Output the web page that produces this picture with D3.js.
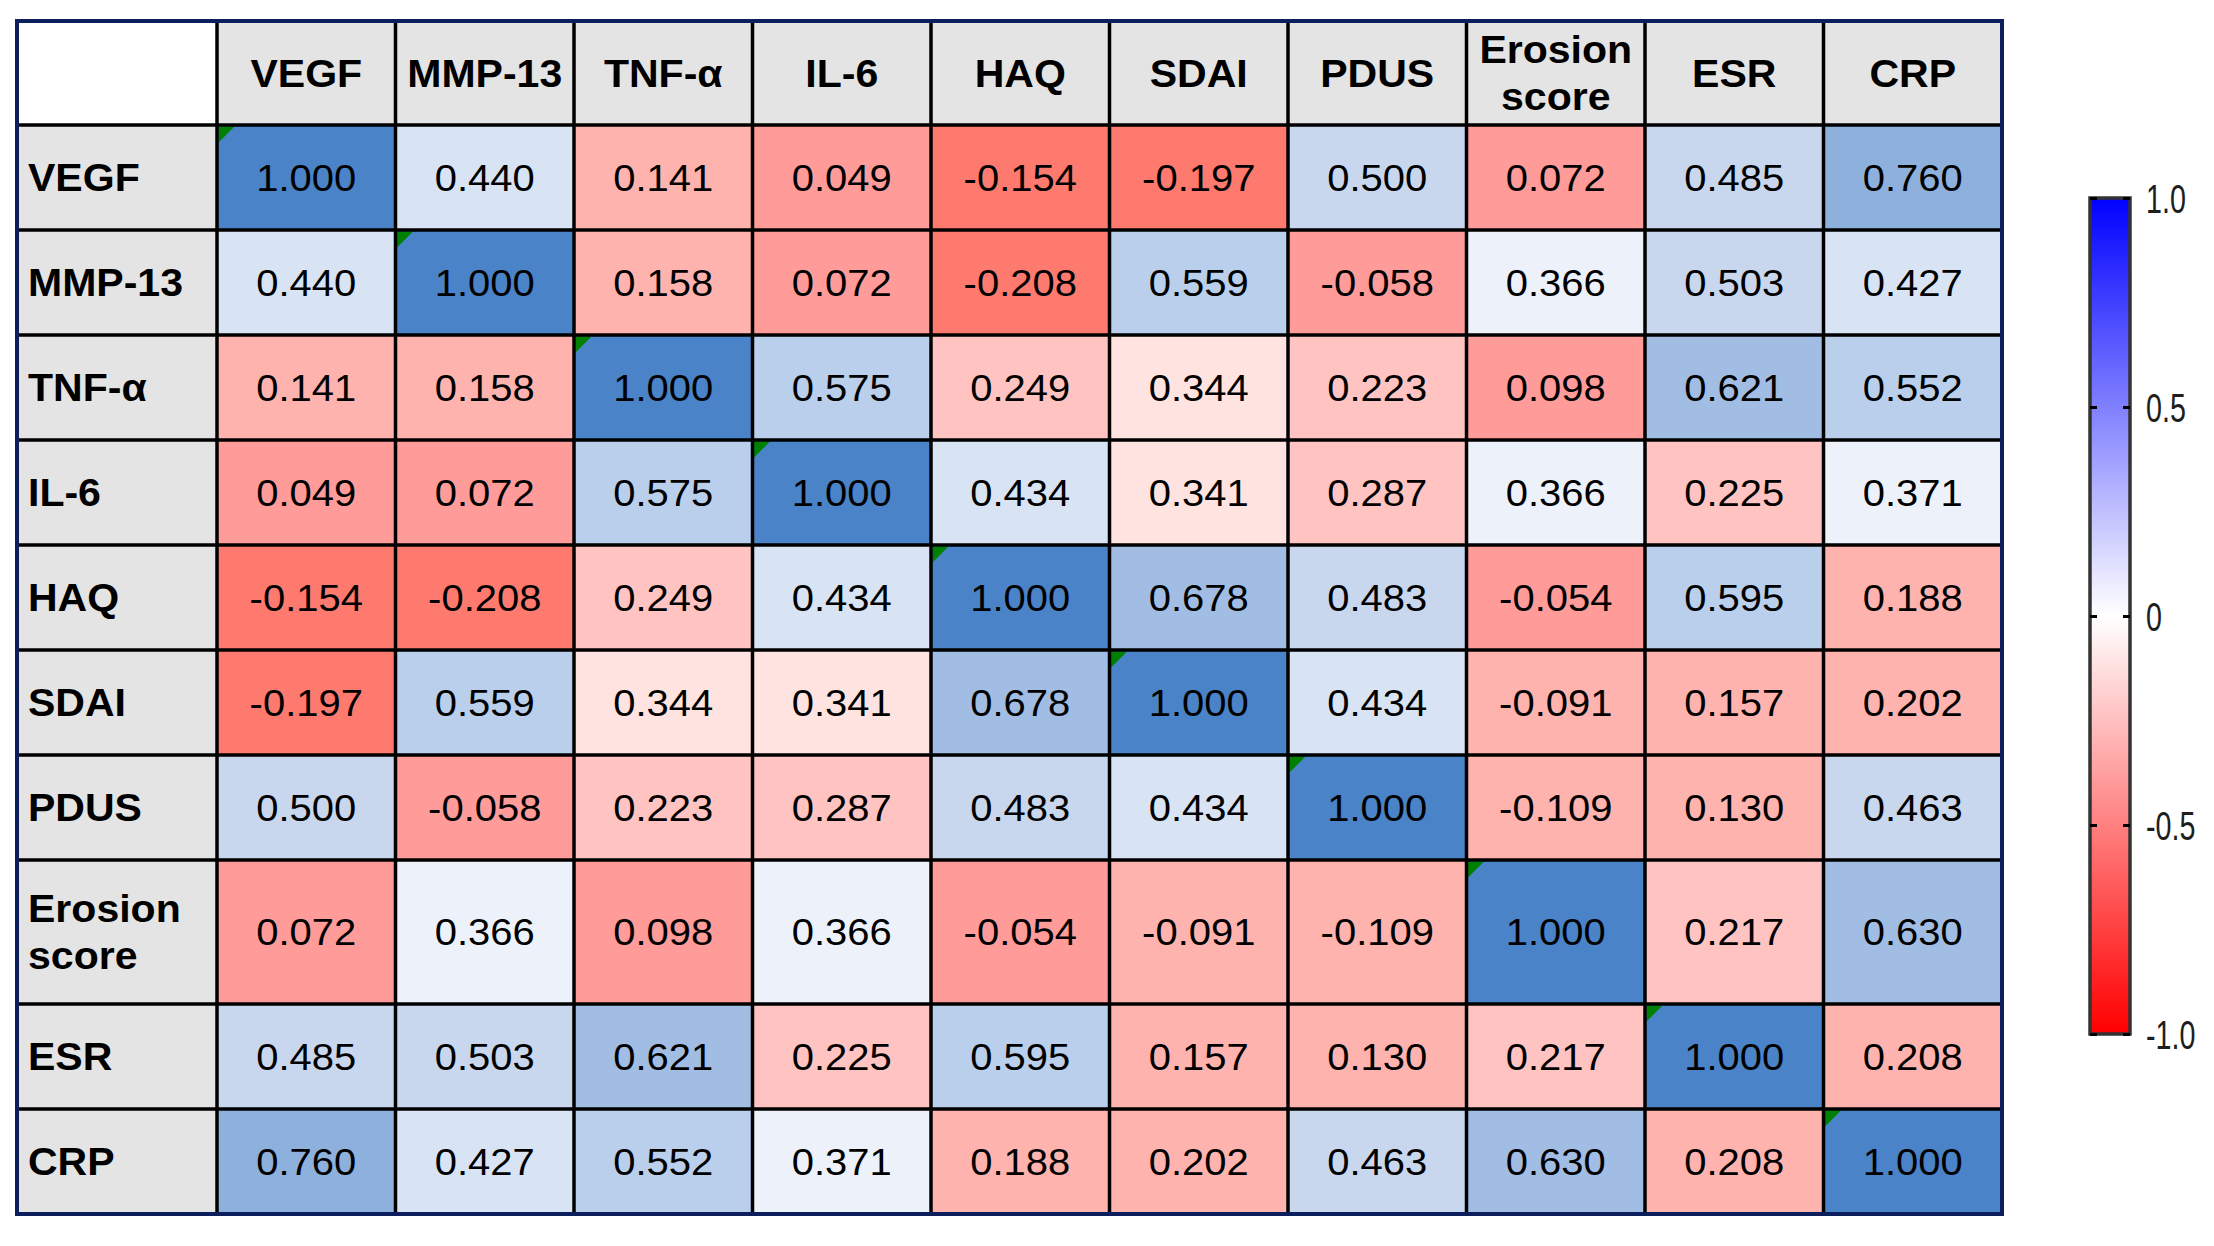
<!DOCTYPE html>
<html>
<head>
<meta charset="utf-8">
<script src="https://cdn.jsdelivr.net/npm/d3@7"></script>
<style>
    body { margin: 0; background: #fff; }
    text { font-family: Arial, "Liberation Sans", sans-serif; }
</style>
</head>
<body>
<svg id="chart" width="2214" height="1246"></svg>
<script>
const variables = ["VEGF", "MMP-13", "TNF-α", "IL-6", "HAQ", "SDAI", "PDUS", "Erosion score", "ESR", "CRP"];

const correlations = [
    [1.000, 0.440, 0.141, 0.049, -0.154, -0.197, 0.500, 0.072, 0.485, 0.760],
    [0.440, 1.000, 0.158, 0.072, -0.208, 0.559, -0.058, 0.366, 0.503, 0.427],
    [0.141, 0.158, 1.000, 0.575, 0.249, 0.344, 0.223, 0.098, 0.621, 0.552],
    [0.049, 0.072, 0.575, 1.000, 0.434, 0.341, 0.287, 0.366, 0.225, 0.371],
    [-0.154, -0.208, 0.249, 0.434, 1.000, 0.678, 0.483, -0.054, 0.595, 0.188],
    [-0.197, 0.559, 0.344, 0.341, 0.678, 1.000, 0.434, -0.091, 0.157, 0.202],
    [0.500, -0.058, 0.223, 0.287, 0.483, 0.434, 1.000, -0.109, 0.130, 0.463],
    [0.072, 0.366, 0.098, 0.366, -0.054, -0.091, -0.109, 1.000, 0.217, 0.630],
    [0.485, 0.503, 0.621, 0.225, 0.595, 0.157, 0.130, 0.217, 1.000, 0.208],
    [0.760, 0.427, 0.552, 0.371, 0.188, 0.202, 0.463, 0.630, 0.208, 1.000]
];

const legendTicks = [-1, -0.5, 0, 0.5, 1];

const svg = d3.select("#chart");
svg.append("rect").attr("width", 2214).attr("height", 1246).attr("fill", "#fff");

const table = { left: 17, top: 21, labelWidth: 200, right: 2002, headerHeight: 104, bottom: 1214 };
const gridColor = "#000",
    headFill = "#e4e4e4",
    lineHeight = 47,
    stretch = 1.08;

const fmt = d3.formatLocale({ decimal: ".", thousands: ",", grouping: [3], currency: ["", ""], minus: "-" }).format(".3f");

// shading as in the original table (banded, blue above ~0.36, red below)
const cellColor = d3
    .scaleThreshold()
    .domain([-0.15, -0.08, 0.11, 0.21, 0.3, 0.355, 0.42, 0.45, 0.55, 0.6, 0.7, 0.99])
    .range([
        "#ff7a6e", "#ffb3ae", "#ff9b99", "#ffb3ae", "#ffc4c1", "#ffe3e0", "#ecf1fa",
        "#d8e3f4", "#c8d7ee", "#bacfec", "#a1bde3", "#8eb0dd", "#4a83c8"
    ]);

const lines = d => d.split(" ");

const x = d3
    .scaleBand()
    .domain(variables)
    .range([table.left + table.labelWidth, table.right]);

// two-line labels get a taller row
const rowWeight = variables.map(v => (lines(v).length > 1 ? 1.37 : 1));
const cum = [0, ...d3.cumsum(rowWeight)];
const yScale = d3
    .scaleLinear()
    .domain([0, cum[cum.length - 1]])
    .range([table.top + table.headerHeight, table.bottom]);
const rowY = i => yScale(cum[i]);
const rowH = i => yScale(cum[i + 1]) - yScale(cum[i]);

const cells = [];
correlations.forEach((row, i) => {
    row.forEach((value, j) => {
        cells.push({ row: i, col: variables[j], value, diag: i === j });
    });
});

const gTable = svg.append("g");

// header backgrounds
gTable
    .append("rect")
    .attr("x", table.left)
    .attr("y", table.top)
    .attr("width", table.labelWidth)
    .attr("height", table.headerHeight)
    .attr("fill", "#fff");
gTable
    .selectAll("rect.head")
    .data(variables)
    .join("rect")
    .attr("class", "head")
    .attr("x", d => x(d))
    .attr("y", table.top)
    .attr("width", x.bandwidth())
    .attr("height", table.headerHeight)
    .attr("fill", headFill);
gTable
    .selectAll("rect.rowhead")
    .data(variables)
    .join("rect")
    .attr("class", "rowhead")
    .attr("x", table.left)
    .attr("y", (d, i) => rowY(i))
    .attr("width", table.labelWidth)
    .attr("height", (d, i) => rowH(i))
    .attr("fill", headFill);

// value cells
gTable
    .selectAll("rect.cell")
    .data(cells)
    .join("rect")
    .attr("class", "cell")
    .attr("x", d => x(d.col))
    .attr("y", d => rowY(d.row))
    .attr("width", x.bandwidth())
    .attr("height", d => rowH(d.row))
    .attr("fill", d => cellColor(d.value));

// little green corner marks on the diagonal
gTable
    .selectAll("path.mark")
    .data(cells.filter(d => d.diag))
    .join("path")
    .attr("class", "mark")
    .attr("d", d => {
        const x0 = x(d.col) + 1.5,
            y0 = rowY(d.row) + 1.5;
        return `M${x0},${y0}L${x0 + 16},${y0}L${x0},${y0 + 16}Z`;
    })
    .attr("fill", "#008000");

gTable
    .selectAll("text.value")
    .data(cells)
    .join("text")
    .attr("class", "value")
    .attr("transform", d => `translate(${x(d.col) + x.bandwidth() / 2},${rowY(d.row) + rowH(d.row) / 2}) scale(${stretch},1)`)
    .attr("dy", "0.36em")
    .attr("text-anchor", "middle")
    .attr("font-size", "37px")
    .attr("fill", "#000")
    .text(d => fmt(d.value));

function multiLine(sel) {
    sel.each(function(d) {
        const parts = lines(d);
        const t = d3.select(this);
        parts.forEach((p, k) => {
            t.append("tspan")
                .attr("x", 0)
                .attr("y", (k - (parts.length - 1) / 2) * lineHeight)
                .attr("dy", "0.36em")
                .text(p);
        });
    });
}

gTable
    .selectAll("text.colhead")
    .data(variables)
    .join("text")
    .attr("class", "colhead")
    .attr("transform", d => `translate(${x(d) + x.bandwidth() / 2},${table.top + table.headerHeight / 2}) scale(${stretch},1)`)
    .attr("text-anchor", "middle")
    .attr("font-size", "38px")
    .attr("font-weight", "bold")
    .call(multiLine);

gTable
    .selectAll("text.rowlabel")
    .data(variables)
    .join("text")
    .attr("class", "rowlabel")
    .attr("transform", (d, i) => `translate(${table.left + 11},${rowY(i) + rowH(i) / 2}) scale(${stretch},1)`)
    .attr("text-anchor", "start")
    .attr("font-size", "38px")
    .attr("font-weight", "bold")
    .call(multiLine);

// grid
const colEdges = [table.left + table.labelWidth, ...variables.map(v => x(v) + x.bandwidth())];
const rowEdges = [table.top + table.headerHeight, ...variables.map((v, i) => rowY(i) + rowH(i))];
gTable
    .selectAll("line.v")
    .data(colEdges.slice(0, -1))
    .join("line")
    .attr("class", "v")
    .attr("x1", d => d)
    .attr("x2", d => d)
    .attr("y1", table.top)
    .attr("y2", table.bottom)
    .attr("stroke", gridColor)
    .attr("stroke-width", 3.5);
gTable
    .selectAll("line.h")
    .data(rowEdges.slice(0, -1))
    .join("line")
    .attr("class", "h")
    .attr("x1", table.left)
    .attr("x2", table.right)
    .attr("y1", d => d)
    .attr("y2", d => d)
    .attr("stroke", gridColor)
    .attr("stroke-width", 3.5);

gTable
    .append("rect")
    .attr("x", table.left)
    .attr("y", table.top)
    .attr("width", table.right - table.left)
    .attr("height", table.bottom - table.top)
    .attr("fill", "none")
    .attr("stroke", "#0c1f5c")
    .attr("stroke-width", 4);

// colour bar
const legend = { x: 2090, width: 40, top: 198, bottom: 1034 };
const ly = d3
    .scaleLinear()
    .domain([-1, 1])
    .range([legend.bottom, legend.top]);
const barColor = d3
    .scaleLinear()
    .domain([-1, 0, 1])
    .range(["#ff0000", "#ffffff", "#0000ff"]);

const grad = svg
    .append("defs")
    .append("linearGradient")
    .attr("id", "cbar")
    .attr("x1", 0)
    .attr("y1", 1)
    .attr("x2", 0)
    .attr("y2", 0);
grad.selectAll("stop")
    .data(d3.ticks(-1, 1, 20))
    .join("stop")
    .attr("offset", d => (d + 1) / 2)
    .attr("stop-color", d => barColor(d));

const gLegend = svg.append("g");
gLegend
    .append("rect")
    .attr("x", legend.x)
    .attr("y", legend.top)
    .attr("width", legend.width)
    .attr("height", legend.bottom - legend.top)
    .attr("fill", "url(#cbar)")
    .attr("stroke", "#333")
    .attr("stroke-width", 3.5);

const labelScale = 0.7;
const axisR = gLegend
    .append("g")
    .attr("transform", `translate(${legend.x + legend.width},0)`)
    .call(
        d3
            .axisRight(ly)
            .tickValues(legendTicks)
            .tickSizeInner(-7)
            .tickSizeOuter(0)
            .tickPadding(0)
            .tickFormat(d => (d === 0 ? "0" : d3.format(".1f")(d).replace("−", "-")))
    );
axisR.select(".domain").remove();
axisR.selectAll(".tick line").attr("stroke", "#000").attr("stroke-width", 3);
axisR
    .selectAll(".tick text")
    .attr("font-size", "41px")
    .attr("font-family", "Arial, 'Liberation Sans', sans-serif")
    .attr("fill", "#1e1e1e")
    .attr("x", 16 / labelScale)
    .attr("dy", "0.36em")
    .attr("transform", `scale(${labelScale},1)`);

const axisL = gLegend
    .append("g")
    .attr("transform", `translate(${legend.x},0)`)
    .call(
        d3
            .axisLeft(ly)
            .tickValues(legendTicks)
            .tickSizeInner(-7)
            .tickSizeOuter(0)
            .tickFormat("")
    );
axisL.select(".domain").remove();
axisL.selectAll(".tick line").attr("stroke", "#000").attr("stroke-width", 3);
</script>
</body>
</html>
